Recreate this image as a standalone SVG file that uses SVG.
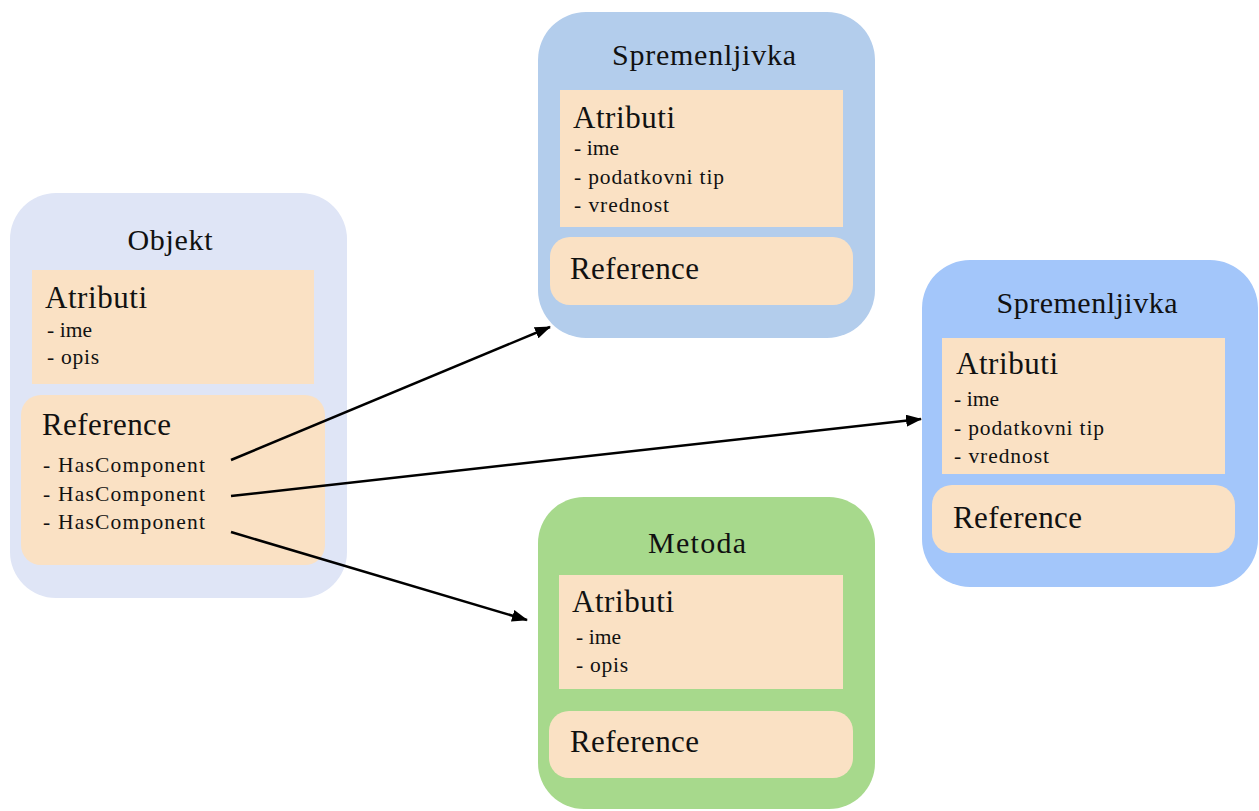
<svg xmlns="http://www.w3.org/2000/svg" width="1259" height="811" viewBox="0 0 1259 811">
<defs>
<style>
text{font-family:"Liberation Serif","Times New Roman",serif;fill:#111}
.t{font-size:30px;text-anchor:middle}
.h{font-size:31px}
.i{font-size:21.5px}
.in{fill:#fae1c4}
</style>
<marker id="ah" markerWidth="16" markerHeight="12" refX="15" refY="6" orient="auto" markerUnits="userSpaceOnUse">
<path d="M0,0 L16,6 L0,12 Z" fill="#000"/>
</marker>
</defs>
<rect width="1259" height="811" fill="#fff"/>
<g id="objekt">
<rect x="10" y="193" width="337" height="405" rx="46" fill="#dfe5f6"/>
<text class="t" x="170" y="250" textLength="85">Objekt</text>
<rect class="in" x="32" y="270" width="282" height="114"/>
<text class="h" x="45" y="308" textLength="102">Atributi</text>
<text class="i" x="47" y="337" textLength="45">- ime</text>
<text class="i" x="47" y="364" textLength="52">- opis</text>
<rect class="in" x="21" y="395" width="304" height="170" rx="20"/>
<text class="h" x="42" y="435" textLength="129">Reference</text>
<text class="i" x="43" y="472" textLength="162">- HasComponent</text>
<text class="i" x="43" y="501" textLength="162">- HasComponent</text>
<text class="i" x="43" y="529" textLength="162">- HasComponent</text>
</g>
<g id="spremenljivka1">
<rect x="538" y="12" width="337" height="326" rx="48" fill="#b3cdec"/>
<text class="t" x="704" y="65" textLength="184">Spremenljivka</text>
<rect class="in" x="560" y="90" width="283" height="137"/>
<text class="h" x="573" y="128" textLength="102">Atributi</text>
<text class="i" x="574" y="155" textLength="45">- ime</text>
<text class="i" x="574" y="184" textLength="150">- podatkovni tip</text>
<text class="i" x="574" y="212" textLength="95">- vrednost</text>
<rect class="in" x="550" y="237" width="303" height="68" rx="20"/>
<text class="h" x="570" y="279" textLength="129">Reference</text>
</g>
<g id="spremenljivka2">
<rect x="922" y="260" width="336" height="327" rx="48" fill="#a3c6fa"/>
<text class="t" x="1087" y="313" textLength="181">Spremenljivka</text>
<rect class="in" x="942" y="338" width="283" height="136"/>
<text class="h" x="956" y="374" textLength="102">Atributi</text>
<text class="i" x="954" y="406" textLength="45">- ime</text>
<text class="i" x="954" y="435" textLength="150">- podatkovni tip</text>
<text class="i" x="954" y="463" textLength="95">- vrednost</text>
<rect class="in" x="932" y="485" width="303" height="68" rx="20"/>
<text class="h" x="953" y="528" textLength="129">Reference</text>
</g>
<g id="metoda">
<rect x="538" y="497" width="337" height="312" rx="46" fill="#a7d98c"/>
<text class="t" x="697" y="553" textLength="98">Metoda</text>
<rect class="in" x="559" y="575" width="284" height="114"/>
<text class="h" x="572" y="612" textLength="102">Atributi</text>
<text class="i" x="576" y="644" textLength="45">- ime</text>
<text class="i" x="576" y="672" textLength="52">- opis</text>
<rect class="in" x="549" y="711" width="304" height="67" rx="20"/>
<text class="h" x="570" y="752" textLength="129">Reference</text>
</g>
<g id="connectors" stroke="#000" stroke-width="2.5" fill="none">
<line x1="231" y1="460" x2="550" y2="327" marker-end="url(#ah)"/>
<line x1="231" y1="496" x2="921" y2="419" marker-end="url(#ah)"/>
<line x1="231" y1="532" x2="527" y2="620" marker-end="url(#ah)"/>
</g>
</svg>
